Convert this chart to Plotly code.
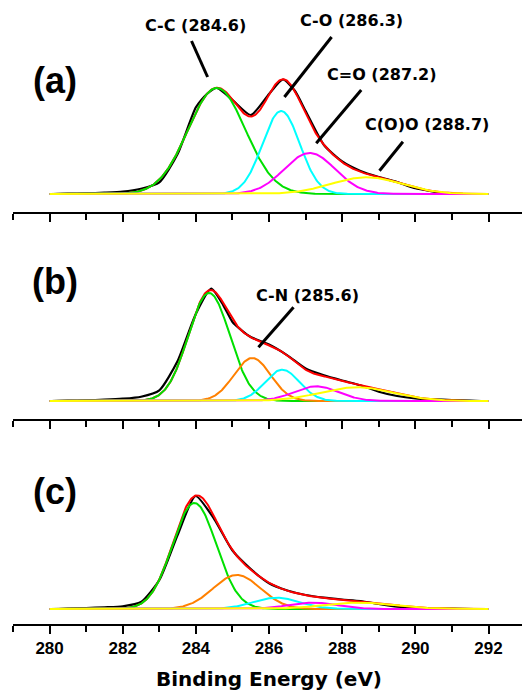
import numpy as np
import plotly.graph_objects as go

# ---------------- data ----------------
# Fitted C1s components: centre (eV), height (a.u.), FWHM (eV)
a_names = ["C-C", "C-O", "C=O", "C(O)O"]
a_centers = [284.57, 286.33, 287.11, 288.66]
a_heights = [106.0, 83.0, 41.0, 16.7]
a_fwhm = [1.85, 1.20, 1.64, 2.27]

b_names = ["C-C", "C-N", "C-O", "C=O", "C(O)O"]
b_centers = [284.36, 285.54, 286.36, 287.29, 288.40]
b_heights = [108.0, 43.0, 31.3, 14.7, 13.7]
b_fwhm = [1.34, 1.18, 1.11, 1.44, 2.35]

c_names = ["C-C", "C-N", "C-O", "C=O", "C(O)O"]
c_centers = [283.96, 285.12, 286.20, 287.20, 288.47]
c_heights = [106.0, 34.0, 11.3, 6.3, 6.3]
c_fwhm = [1.41, 1.53, 1.50, 1.60, 2.30]

# Measured spectra (black)
a_meas_x = [280.1, 280.5, 281, 281.5, 282, 282.5, 283, 283.5, 284, 284.3, 284.57, 285,
            285.5, 286, 286.38, 286.7, 287, 287.5, 288, 288.5, 289, 289.5, 290, 290.5, 290.85]
a_meas_y = [0, 0.3, 0.7, 1.3, 2.3, 5.3, 11.7, 40, 86.7, 100, 106, 94,
            79, 100, 114.5, 103.5, 83, 49, 32.5, 23, 17, 12, 5.7, 2.3, 0]

b_meas_x = [280.05, 280.5, 281, 281.5, 282, 282.5, 283, 283.5, 284, 284.42, 284.75, 285,
            285.25, 285.5, 286, 286.5, 287, 287.5, 288, 288.5, 289, 289.5, 290, 290.5, 291, 291.5, 291.8]
b_meas_y = [0, 0.3, 0.7, 1.3, 2.3, 4.3, 10.7, 40, 87.3, 112.3, 95.7, 79,
            70.7, 64, 56.5, 45.7, 32.5, 25.7, 20.5, 15.7, 9.3, 5, 2.7, 1.7, 1, 0.5, 0]

c_meas_x = [280.25, 280.5, 281, 281.5, 282, 282.5, 283, 283.5, 283.99, 284.5, 285, 285.5,
            286, 286.5, 287, 287.5, 288, 288.5, 289, 289.5, 290, 290.5, 291, 291.6]
c_meas_y = [0, 0.3, 1, 1.7, 2.7, 7, 29, 74, 113, 90, 58.5, 40,
            25.7, 18.5, 14, 11.3, 9.5, 8, 5, 2.3, 1, 0.5, 0.3, 0]

panel_labels = ["(a)", "(b)", "(c)"]
tick_values = [280, 282, 284, 286, 288, 290, 292]
x_title = "Binding Energy (eV)"

# ---------------- styling ----------------
comp_colors = {"C-C": "#00e000", "C-N": "#ff8000", "C-O": "#00ffff",
               "C=O": "#ff00ff", "C(O)O": "#ffff00"}

grid = np.arange(280.0, 292.0001, 0.02)


def component(c, h, w):
    s = w / 2.3548
    return h * np.exp(-(grid - c) ** 2 / (2 * s * s))


panels = [
    (a_names, a_centers, a_heights, a_fwhm, a_meas_x, a_meas_y),
    (b_names, b_centers, b_heights, b_fwhm, b_meas_x, b_meas_y),
    (c_names, c_centers, c_heights, c_fwhm, c_meas_x, c_meas_y),
]

fig = go.Figure()
for i, (names, cen, hei, fw, mx, my) in enumerate(panels):
    xa = "x" if i == 0 else f"x{i+1}"
    ya = "y" if i == 0 else f"y{i+1}"
    comps = [component(c, h, w) for c, h, w in zip(cen, hei, fw)]
    env = np.sum(comps, axis=0)
    fig.add_trace(go.Scatter(x=mx, y=my, mode="lines",
                             line=dict(color="black", width=2.2, shape="spline", smoothing=0.6),
                             xaxis=xa, yaxis=ya, showlegend=False, hoverinfo="skip"))
    fig.add_trace(go.Scatter(x=grid, y=env, mode="lines", line=dict(color="#ff0000", width=2),
                             xaxis=xa, yaxis=ya, showlegend=False, hoverinfo="skip"))
    for n, comp in zip(names, comps):
        fig.add_trace(go.Scatter(x=grid, y=comp, mode="lines", line=dict(color=comp_colors[n], width=2),
                                 xaxis=xa, yaxis=ya, showlegend=False, hoverinfo="skip"))

# ---------------- layout ----------------
W, H = 522, 692
ml, mr, mt, mb = 13, 0, 0, 68
plot_h = H - mt - mb

# panel pixel extents (top, axis line) and baseline offset
panel_px = [(0, 212, 18), (222, 418.7, 17.7), (430, 624, 15)]

axis_common = dict(range=[279, 292.915], showline=True, linecolor="black", linewidth=2,
                   ticks="outside", ticklen=8, tickwidth=2, tickcolor="black",
                   tickmode="array", tickvals=tick_values,
                   minor=dict(ticks="outside", ticklen=6, tickwidth=2, tickcolor="black",
                              dtick=1, tick0=279, showgrid=False),
                   showgrid=False, zeroline=False, mirror=False, fixedrange=True)

layout = dict(width=W, height=H, margin=dict(l=ml, r=mr, t=mt, b=mb),
              paper_bgcolor="white", plot_bgcolor="white", showlegend=False)

for i, (top, bot, off) in enumerate(panel_px):
    suf = "" if i == 0 else str(i + 1)
    d0 = (plot_h - bot) / plot_h
    d1 = (plot_h - top) / plot_h
    xa = dict(axis_common)
    xa["anchor"] = "y" + suf
    xa["showticklabels"] = (i == 2)
    xa["tickfont"] = dict(family="Liberation Sans", size=17, color="black", weight="bold")
    if i > 0:
        xa["matches"] = "x"
    layout["xaxis" + suf] = xa
    layout["yaxis" + suf] = dict(domain=[max(d0, 0), min(d1, 1)], range=[-off, (bot - top) - off],
                                 visible=False, fixedrange=True, anchor="x" + suf)

fig.update_layout(**layout)

ann_font = dict(family="DejaVu Sans", size=16, color="black", weight="bold")

# peak labels (text x, text y, line x0, y0, x1, y1) in data units of each panel
peak_labels = [
    ("x", "y", "C-C (284.6)", 284.00, 168.5, 283.88, 153, 284.32, 117),
    ("x", "y", "C-O (286.3)", 288.26, 173.5, 287.71, 157, 286.42, 97),
    ("x", "y", "C=O (287.2)", 289.09, 120, 288.52, 104, 287.29, 50.7),
    ("x", "y", "C(O)O (288.7)", 290.31, 69.5, 289.66, 52.3, 289.02, 23.3),
    ("x2", "y2", "C-N (285.6)", 287.05, 106, 286.67, 93.7, 285.71, 53.7),
]
for xr, yr, t, tx, ty, x0, y0, x1, y1 in peak_labels:
    fig.add_annotation(x=tx, y=ty, xref=xr, yref=yr, text=t, showarrow=False,
                       font=ann_font, xanchor="center", yanchor="middle")
    fig.add_shape(type="line", xref=xr, yref=yr, x0=x0, y0=y0, x1=x1, y1=y1,
                  line=dict(color="black", width=3))

letter_pos = [("x", "y", 114), ("x2", "y2", 120), ("x3", "y3", 118)]
for (xr, yr, ly), lab in zip(letter_pos, panel_labels):
    fig.add_annotation(x=280.14, y=ly, xref=xr, yref=yr, text=lab, showarrow=False,
                       font=dict(family="Liberation Sans", size=36, color="black", weight="bold"),
                       xanchor="center", yanchor="middle")

fig.add_annotation(x=(268.5 - ml) / (W - ml - mr), y=(plot_h - 679) / plot_h, xref="paper", yref="paper",
                   text=x_title, showarrow=False,
                   font=dict(family="DejaVu Sans", size=20, color="black", weight="bold"),
                   xanchor="center", yanchor="middle")

fig.write_html("out.html")
